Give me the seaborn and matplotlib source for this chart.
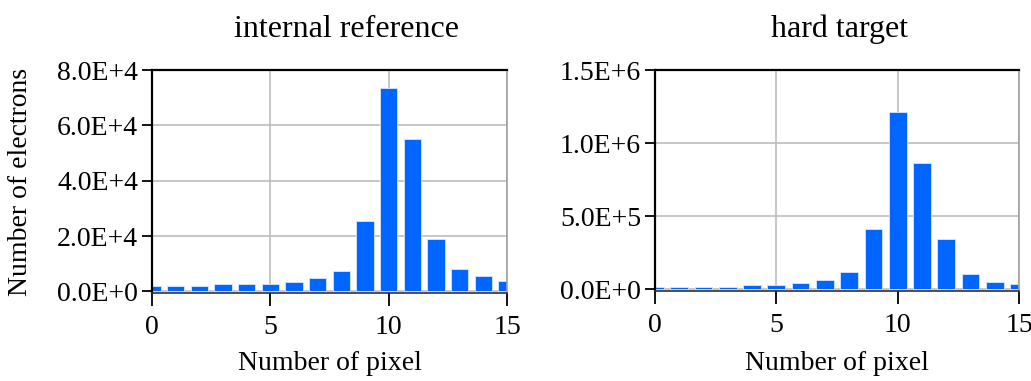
import numpy as np
import pandas as pd
import seaborn as sns
from matplotlib import pyplot as plt

# pixel index along the detector
pixels = list(range(16))

# electrons per pixel
internal_reference = [1800, 1800, 1800, 2500, 2500, 2500, 3200, 4800,
                      7500, 25500, 73600, 54900, 19000, 8200, 5400, 3900]
hard_target = [17000, 17000, 17000, 17000, 30000, 30000, 42000, 66000,
               118000, 413000, 1215000, 863000, 346000, 102000, 50000, 36000]

titles = ['internal reference', 'hard target']
x_ticks = [0, 5, 10, 15]
left_yticks = [0, 20000, 40000, 60000, 80000]
left_ylabels = ['0.0E+0', '2.0E+4', '4.0E+4', '6.0E+4', '8.0E+4']
right_yticks = [0, 500000, 1000000, 1500000]
right_ylabels = ['0.0E+0', '5.0E+5', '1.0E+6', '1.5E+6']

sns.set_style('white')
plt.rcParams['font.family'] = ['Liberation Serif', 'DejaVu Serif']
plt.rcParams['text.color'] = 'black'
plt.rcParams['axes.labelcolor'] = 'black'
plt.rcParams['xtick.color'] = 'black'
plt.rcParams['ytick.color'] = 'black'

W, H = 1031, 381
fig = plt.figure(figsize=(W / 100, H / 100), dpi=100)
fig.patch.set_facecolor('white')

# axes boxes in pixels: left, top, right, bottom
boxes = [(152, 70, 507, 293), (655, 70, 1019, 291)]
series = [internal_reference, hard_target]
yticks = [left_yticks, right_yticks]
ylabels = [left_ylabels, right_ylabels]
title_x = [346, 840]


def style_axes(ax, ticks, labels, ymax):
    ax.set_xlim(0, 15)
    ax.set_ylim(-ymax * 0.0075, ymax)
    ax.set_xticks(x_ticks)
    ax.set_xticklabels([str(t) for t in x_ticks], fontsize=20)
    ax.set_yticks(ticks)
    ax.set_yticklabels(labels, fontsize=20)
    ax.tick_params(axis='y', direction='out', length=7, width=1.3,
                   color='black', pad=3, left=True)
    ax.tick_params(axis='x', direction='out', length=9, width=1.3,
                   color='black', pad=7, bottom=True)
    ax.set_axisbelow(True)
    ax.grid(True, color='#bdbdbd', linewidth=1.2)
    for side in ['left', 'top']:
        ax.spines[side].set_color('black')
        ax.spines[side].set_linewidth(1.6)
    ax.spines['right'].set_color('#a0a0a0')
    ax.spines['right'].set_linewidth(1.2)
    ax.spines['bottom'].set_color('#303030')
    ax.spines['bottom'].set_linewidth(1.2)
    ax.set_xlabel('Number of pixel', fontsize=20, va='center')
    ax.set_ylabel('')


for i in range(2):
    l, t, r, b = boxes[i]
    ax = fig.add_axes([l / W, 1 - b / H, (r - l) / W, (b - t) / H])
    df = pd.DataFrame({'pixel': pixels, 'electrons': series[i]})
    sns.barplot(data=df, x='pixel', y='electrons', native_scale=True,
                width=0.73, color='#0066ff', saturation=1,
                edgecolor='#d8e6ff', linewidth=0.6, ax=ax)
    style_axes(ax, yticks[i], ylabels[i], yticks[i][-1])
    ax.xaxis.set_label_coords(0.5, (b - 363) / (b - t))
    fig.text(title_x[i] / W, 1 - 37 / H, titles[i], fontsize=23,
             ha='center', va='baseline')
    if i == 0:
        ax.set_ylabel('Number of electrons', fontsize=20, va='center')
        ax.yaxis.set_label_coords((21 - l) / (r - l), 0.5)

plt.savefig('out.png', dpi=100)
